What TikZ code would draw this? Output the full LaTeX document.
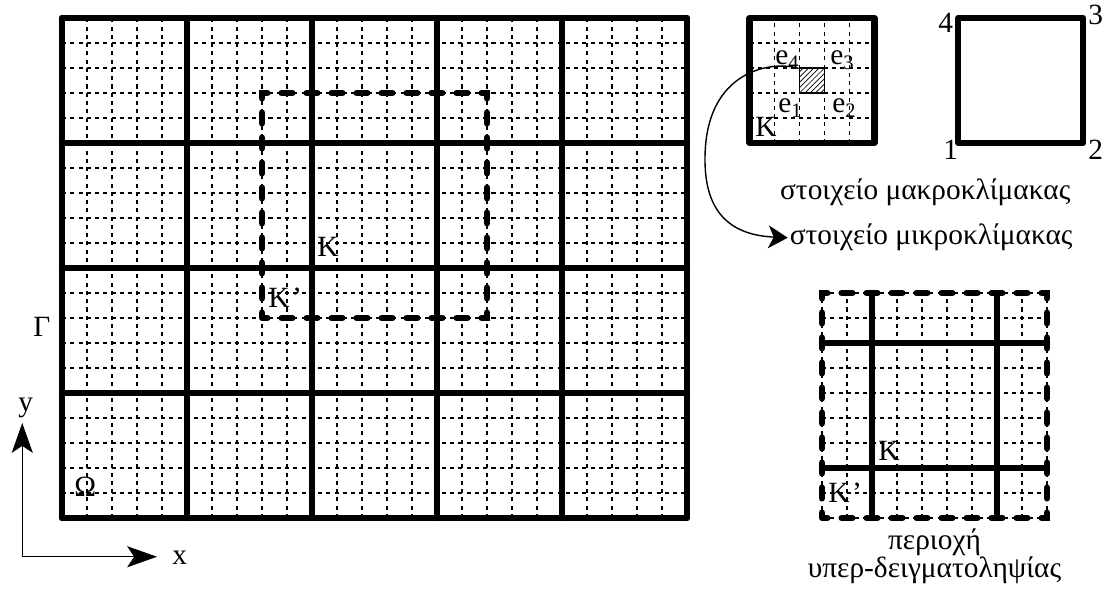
\documentclass[tikz,border=0pt]{standalone}
\usepackage{fontspec}
\setmainfont{Liberation Serif}
\usetikzlibrary{arrows.meta,patterns}

\begin{document}
\begin{tikzpicture}[scale=0.5,
		lbl/.style={inner sep=0pt, anchor=base west, font=\fontsize{16.7}{12.5}\selectfont},
		fine/.style={line width=0.6pt, dash pattern=on 2.3pt off 2.4pt},
		coarse/.style={line width=3.6pt, line join=round, line cap=round},
		oversample/.style={line width=3.4pt, line cap=round, dash pattern=on 6.3pt off 7.926pt, dash phase=3.15pt},
		axisarrow/.style={line width=0.6pt, -{Stealth[length=17pt,width=12pt,inset=4pt]}},
		maparrow/.style={line width=0.8pt, -{Stealth[length=11pt,width=13pt,inset=3pt]}}]
		\useasboundingbox (-2.48,-2.96) rectangle (41.8,20.72);
		% domain Omega
		\draw[fine] (0,0) grid (25,20);
		\draw[coarse, step=5] (0,0) grid (25,20);
		\draw[oversample] (8,8) rectangle (17,17);
		\node[lbl] (K) at (10.2,10.44) {K};
		\node[lbl] (Kp) at (8.24,8.4) {K\kern1.5pt'};
		\node[lbl] (Gamma) at (-1.16,7.24) {Γ};
		\node[lbl] (Omega) at (0.48,0.84) {Ω};
		% axes
		\coordinate (O) at (-1.59,-1.55);
		\coordinate (xend) at (3.8,-1.55);
		\coordinate (yend) at (-1.59,3.8);
		\draw[axisarrow] (O) -- (xend);
		\draw[axisarrow] (O) -- (yend);
		\node[lbl] (xlab) at (4.4,-1.88) {x};
		\node[lbl] (ylab) at (-1.76,4.24) {y};
		% macro element with micro cells
		\begin{scope}[shift={(27.5,15)}]
			\draw[fine] (0,0) grid (5,5);
			\draw[coarse] (0,0) rectangle (5,5);
			\node[draw, line width=1pt, fill=white, pattern=north east lines, minimum size=0.5cm, inner sep=0pt] (cell) at (2.5,2.5) {};
		\end{scope}
		\node[lbl] (e4) at (28.52,18.12) {e\textsubscript{4}};
		\node[lbl] (e3) at (30.72,18.12) {e\textsubscript{3}};
		\node[lbl] (e1) at (28.64,16.2) {e\textsubscript{1}};
		\node[lbl] (e2) at (30.8,16.2) {e\textsubscript{2}};
		\node[lbl] (Ks) at (27.72,15.24) {K};
		% reference element
		\draw[coarse] (35.85,15) rectangle (40.85,20);
		\node[lbl] (n4) at (35.04,19.4) {4};
		\node[lbl] (n3) at (41.04,19.72) {3};
		\node[lbl] (n1) at (35.24,14.32) {1};
		\node[lbl] (n2) at (41.04,14.32) {2};
		\node[lbl, anchor=base] (macro) at (34.53,12.72) {στοιχείο μακροκλίμακας};
		\node[lbl] (micro) at (29.1,10.92) {στοιχείο μικροκλίμακας};
		\draw[maparrow] ([yshift=-1.5pt]cell.north west) .. controls (28.5,18.3) and (25.7,18.0) .. (25.72,14.32) .. controls (25.72,11.8) and (27.2,11.3) .. ([xshift=-2pt]micro.west);
		% oversampling region
		\begin{scope}[shift={(30.4,0)}]
			\draw[fine] (0,0) grid (9,9);
			\draw[coarse] (2,0) -- (2,9) (7,0) -- (7,9) (0,2) -- (9,2) (0,7) -- (9,7);
			\draw[oversample] (0,0) rectangle (9,9);
		\end{scope}
		\node[lbl] (Ko) at (32.64,2.28) {K};
		\node[lbl] (Kpo) at (30.64,0.6) {K\kern1.5pt'};
		\node[lbl, anchor=base] (peri1) at (34.9,-1.26) {περιοχή};
		\node[lbl, anchor=base] (peri2) at (34.9,-2.38) {υπερ-δειγματοληψίας};
	\end{tikzpicture}
\end{document}
